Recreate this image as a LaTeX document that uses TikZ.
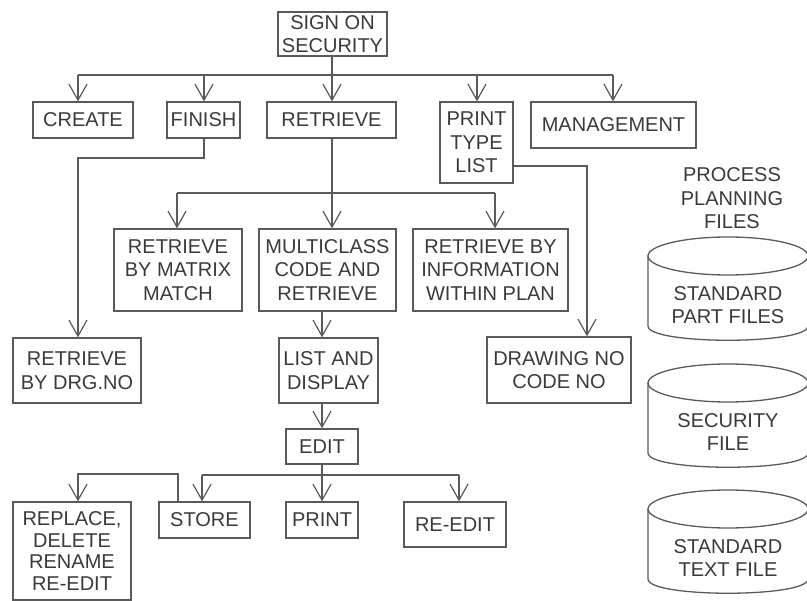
\documentclass[tikz,border=0pt]{standalone}
\usepackage{fontspec}
\setmainfont{Liberation Sans}
\usetikzlibrary{arrows.meta}
\definecolor{ink}{HTML}{5A5A5A}
\definecolor{txt}{HTML}{3A3A3A}
\tikzset{
  box/.style={draw=ink, line width=1.3pt, rectangle, inner sep=0pt, align=center,
    text=txt, font=\fontsize{20}{23.5}\selectfont},
  wire/.style={draw=ink, line width=1.3pt},
  arr/.style={wire, -{Straight Barb[length=16pt,width=18pt,line width=1.2pt]}},
  label/.style={inner sep=0pt, align=center, text=txt, font=\fontsize{20}{23.5}\selectfont},
}
\begin{document}
\begin{tikzpicture}[x=1pt,y=-1pt]
\useasboundingbox (0,0) rectangle (807,601);

% top level
\node[box, minimum width=109pt, minimum height=44pt] (sign) at (332.5,34) {SIGN ON\\SECURITY};
\node[box, minimum width=100pt, minimum height=36pt] (create) at (83,120) {CREATE};
\node[box, minimum width=73pt, minimum height=36pt] (finish) at (203.5,120) {FINISH};
\node[box, minimum width=129pt, minimum height=36pt] (retrieve) at (331.5,120) {RETRIEVE};
\node[box, minimum width=73pt, minimum height=81pt] (ptl) at (476.5,142.5) {PRINT\\TYPE\\LIST};
\node[box, minimum width=165pt, minimum height=46pt] (mgmt) at (613.5,125) {MANAGEMENT};

% retrieval options
\node[box, minimum width=128pt, minimum height=82pt] (matrix) at (178,270) {RETRIEVE\\BY MATRIX\\MATCH};
\node[box, minimum width=137pt, minimum height=82pt] (multi) at (327.5,270) {MULTICLASS\\CODE AND\\RETRIEVE};
\node[box, minimum width=155pt, minimum height=82pt] (info) at (490.5,270) {RETRIEVE BY\\INFORMATION\\WITHIN PLAN};
\node[box, minimum width=128pt, minimum height=65pt] (drg) at (77,370.5) {RETRIEVE\\BY DRG.NO};
\node[box, minimum width=99pt, minimum height=65pt] (list) at (328.5,370.5) {LIST AND\\DISPLAY};
\node[box, minimum width=144pt, minimum height=66pt] (drawno) at (559,370) {DRAWING NO\\CODE NO};

% editing
\node[box, minimum width=72pt, minimum height=35pt] (edit) at (322,446.5) {EDIT};
\node[box, minimum width=118pt, minimum height=98pt, font=\fontsize{20}{21.5}\selectfont] (replace) at (72,551) {REPLACE,\\DELETE\\RENAME\\RE-EDIT};
\node[box, minimum width=91pt, minimum height=36pt] (store) at (204.5,520) {STORE};
\node[box, minimum width=72pt, minimum height=36pt] (print) at (322,520) {PRINT};
\node[box, minimum width=102pt, minimum height=45pt] (reedit) at (455,524.5) {RE-EDIT};

% bus coordinates
\coordinate (b0) at (332,75);
\coordinate (bL) at (78,75);
\coordinate (bR) at (613,75);
\coordinate (bf) at (204,75);
\coordinate (bp) at (477,75);
\coordinate (f1) at (204,158);
\coordinate (f2) at (78,158);
\coordinate (r0) at (332,193);
\coordinate (rL) at (177,193);
\coordinate (rR) at (495,193);
\coordinate (p1) at (587,166);
\coordinate (e0) at (322,475);
\coordinate (eL) at (202,475);
\coordinate (eR) at (459,475);
\coordinate (s1) at (178,474);
\coordinate (s2) at (78,474);

% top-level fan out
\draw[wire] (sign.south -| b0) -- (b0);
\draw[wire] (bL) -- (bR);
\draw[arr] (bL) -- (bL |- create.north);
\draw[arr] (bf) -- (bf |- finish.north);
\draw[arr] (b0) -- (b0 |- retrieve.north);
\draw[arr] (bp) -- (bp |- ptl.north);
\draw[arr] (bR) -- (bR |- mgmt.north);

% finish to retrieve by drawing number
\draw[arr] (f1 |- finish.south) -- (f1) -- (f2) -- (f2 |- drg.north);

% retrieve fan out
\draw[wire] (r0 |- retrieve.south) -- (r0);
\draw[wire] (rL) -- (rR);
\draw[arr] (rL) -- (rL |- matrix.north);
\draw[arr] (r0) -- (r0 |- multi.north);
\draw[arr] (rR) -- (rR |- info.north);

% print type list to drawing number
\draw[arr] (ptl.east |- p1) -- (p1) -- (p1 |- drawno.north);

% main retrieval chain
\draw[arr] (e0 |- multi.south) -- (e0 |- list.north);
\draw[arr] (e0 |- list.south) -- (e0 |- edit.north);

% edit fan out
\draw[wire] (edit.south) -- (e0);
\draw[wire] (eL) -- (eR);
\draw[arr] (eL) -- (eL |- store.north);
\draw[arr] (e0) -- (e0 |- print.north);
\draw[arr] (eR) -- (eR |- reedit.north);

% store back to replace
\draw[arr] (s1 |- store.north) -- (s1) -- (s2) -- (s2 |- replace.north);

% process planning files
\node[label] (ppf) at (732,198.5) {PROCESS\\PLANNING\\FILES};

\foreach \ty/\by/\nm/\txt in {256/326/cylA/{STANDARD\\PART FILES}, 383/453/cylB/{SECURITY\\FILE}, 509/579/cylC/{STANDARD\\TEXT FILE}} {
  \draw[wire] (648,\ty) -- (648,\by) .. controls (648,\by+19) and (808,\by+19) .. (808,\by) -- (808,\ty);
  \draw[wire] (728,\ty) ellipse [x radius=80pt, y radius=19pt];
  \node[label] (\nm) at (728,{(\ty+\by)/2+14}) {\txt};
}
\end{tikzpicture}
\end{document}
